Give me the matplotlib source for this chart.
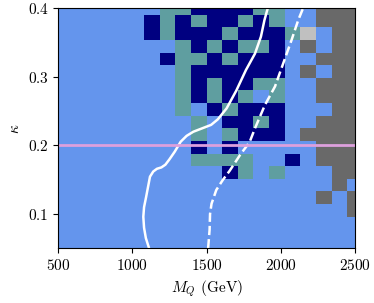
import numpy as np
import matplotlib
matplotlib.use("Agg")
import matplotlib.pyplot as plt
from matplotlib.colors import ListedColormap, BoundaryNorm

plt.rcParams["font.family"] = "serif"
plt.rcParams["font.serif"] = ["cmr10"]
plt.rcParams["mathtext.fontset"] = "cm"
plt.rcParams["axes.formatter.use_mathtext"] = True
plt.rcParams["font.size"] = 11

# scan grid
mq = np.linspace(500, 2500, 20)
kappa = np.linspace(0.05, 0.4, 20)

# category of each cell, first row is kappa = 0.4, columns go along M_Q
# 0 allowed, 1 / 2 excluded, 3 / 4 no point
grid_rows = [
    "00000001122221100333",
    "00000021212212100333",
    "00000021222122214033",
    "00000000121211203033",
    "00000002112122200333",
    "00000000122222203033",
    "00000000121221100333",
    "00000000121210100333",
    "00000000102122200033",
    "00000000010221200333",
    "00000000010122203333",
    "00000000020200000333",
    "00000000011110020333",
    "00000000000210100033",
    "00000000000000000030",
    "00000000000000000303",
    "00000000000000000003",
    "00000000000000000000",
    "00000000000000000000",
    "00000000000000000000",
]
cell_colors = ["cornflowerblue", "cadetblue", "navy", "dimgray", "silver"]

# exclusion contours
solid_mq = [1112, 1090, 1078, 1073, 1078, 1092, 1118, 1140, 1165, 1195, 1222,
            1250, 1285, 1325, 1365, 1410, 1470, 1530, 1575, 1635, 1700, 1765,
            1826, 1866, 1890, 1912]
solid_kappa = [0.05, 0.065, 0.08, 0.096, 0.11, 0.125, 0.1545, 0.162, 0.166,
               0.168, 0.172, 0.18, 0.191, 0.2055, 0.214, 0.220, 0.225, 0.230,
               0.238, 0.2542, 0.28, 0.31, 0.334, 0.3586, 0.383, 0.4]
dashed_mq = [1510, 1520, 1523, 1533, 1565, 1610, 1655, 1725, 1790, 1826, 1893,
             1961, 2017, 2073, 2118, 2150]
dashed_kappa = [0.05, 0.077, 0.10, 0.115, 0.135, 0.150, 0.163, 0.186, 0.205,
                0.225, 0.259, 0.286, 0.32, 0.354, 0.383, 0.40]
kappa_ref = 0.2

z = np.array([[int(c) for c in row] for row in grid_rows[::-1]])

fig = plt.figure(figsize=(3.74, 3.03), dpi=100)
ax = fig.add_axes([0.156, 0.1805, 0.793, 0.792])

cmap = ListedColormap(cell_colors)
norm = BoundaryNorm(np.arange(-0.5, 5), cmap.N)
ax.pcolormesh(mq, kappa, z, cmap=cmap, norm=norm, shading="nearest")

ax.plot(solid_mq, solid_kappa, color="white", lw=1.8)
ax.plot(dashed_mq, dashed_kappa, color="white", lw=1.8, ls="--")
ax.axhline(kappa_ref, color="plum", lw=2)

ax.set_xlim(500, 2500)
ax.set_ylim(0.05, 0.4)
ax.set_xticks([500, 1000, 1500, 2000, 2500])
ax.set_yticks([0.1, 0.2, 0.3, 0.4])
ax.set_xlabel(r"$M_Q$ (GeV)")
ax.set_ylabel(r"$\kappa$")

fig.savefig("out.png", dpi=100)
